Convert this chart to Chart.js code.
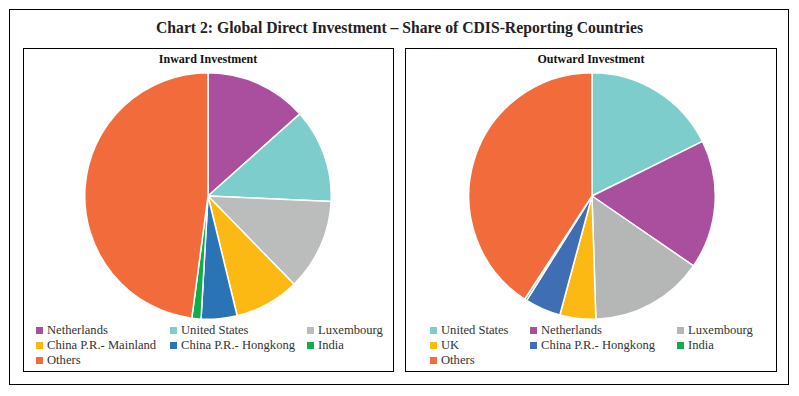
<!DOCTYPE html>
<html lang="en">
<head>
<meta charset="UTF-8">
<script src="https://cdn.jsdelivr.net/npm/chart.js@4.4.1/dist/chart.umd.min.js"></script>
<style>
  body { margin: 0; background: #fff; }
  #wrap { position: relative; width: 799px; height: 396px; font-family: "Liberation Serif", serif; }
  #frame { position: absolute; left: 9px; top: 9px; width: 778px; height: 374px; border: 1.5px solid #000; }
  #title { position: absolute; left: 0; top: 19px; width: 799px; text-align: center; font-size: 15.7px; font-weight: bold; color: #222; }
  .panel { position: absolute; top: 48px; height: 322px; border: 1.5px solid #000; }
  .ptitle { position: absolute; top: 52px; font-size: 12px; font-weight: bold; color: #111; text-align: center; width: 200px; }
  .pie { position: absolute; top: 72px; width: 248px; height: 248px; }
  .leg { position: absolute; font-family: "Liberation Serif", serif; font-size: 12.6px; color: #333; white-space: nowrap; line-height: 14px; }
  .leg i { position: absolute; left: 0; top: 3px; width: 7px; height: 7px; }
  .leg span { position: absolute; top: -1px; font-family: "Liberation Serif", serif; }
</style>
</head>
<body>
<div id="wrap">
  <div id="frame"></div>
  <div id="title">Chart 2: Global Direct Investment – Share of CDIS-Reporting Countries</div>
  <div class="panel" style="left:23px;width:369px"></div>
  <div class="panel" style="left:405px;width:370px"></div>
  <div class="ptitle" style="left:108px">Inward Investment</div>
  <div class="ptitle" style="left:491px">Outward Investment</div>
  <div class="pie" style="left:84px"><canvas id="inward"></canvas></div>
  <div class="pie" style="left:468px"><canvas id="outward"></canvas></div>
  <div id="legends"></div>
</div>
<script>
// shares in per cent
var inwardLabels = ['Netherlands', 'United States', 'Luxembourg', 'China P.R.- Mainland', 'China P.R.- Hongkong', 'India', 'Others'];
var inwardShare = [13.4, 12.3, 12.0, 8.5, 4.7, 1.2, 47.9];
var inwardColors = ['#AA4F9E', '#7ECDCD', '#BBBDBD', '#FDB913', '#2A74B6', '#10AE4B', '#F26B3B'];

var outwardLabels = ['United States', 'Netherlands', 'Luxembourg', 'UK', 'China P.R.- Hongkong', 'India', 'Others'];
var outwardShare = [17.7, 16.9, 14.9, 4.7, 4.7, 0.3, 40.8];
var outwardColors = ['#7ECDCD', '#AA4F9E', '#B5B7B7', '#FDB913', '#3F6EB5', '#10AE4B', '#F26B3B'];

function makePie(id, labels, values, colors) {
  new Chart(document.getElementById(id), {
    type: 'pie',
    data: {
      labels: labels,
      datasets: [{
        data: values,
        backgroundColor: colors,
        borderColor: '#fff',
        borderWidth: 1.5
      }]
    },
    options: {
      responsive: true,
      maintainAspectRatio: false,
      animation: false,
      layout: { padding: 0 },
      plugins: { legend: { display: false }, tooltip: { enabled: false } }
    }
  });
}

// legend grid: 3 columns, rows 15px apart
function makeLegend(labels, colors, cols, top) {
  var box = document.getElementById('legends');
  labels.forEach(function(l, i) {
    var d = document.createElement('div');
    d.className = 'leg';
    d.style.left = cols[i % 3] + 'px';
    d.style.top = (top + Math.floor(i / 3) * 15) + 'px';
    d.innerHTML = '<i style="background:' + colors[i] + '"></i><span style="left:11px">' + l + '</span>';
    box.appendChild(d);
  });
}

makePie('inward', inwardLabels, inwardShare, inwardColors);
makePie('outward', outwardLabels, outwardShare, outwardColors);
makeLegend(inwardLabels, inwardColors, [36, 170, 307], 324);
makeLegend(outwardLabels, outwardColors, [430, 530, 677], 324);
</script>
</body>
</html>
